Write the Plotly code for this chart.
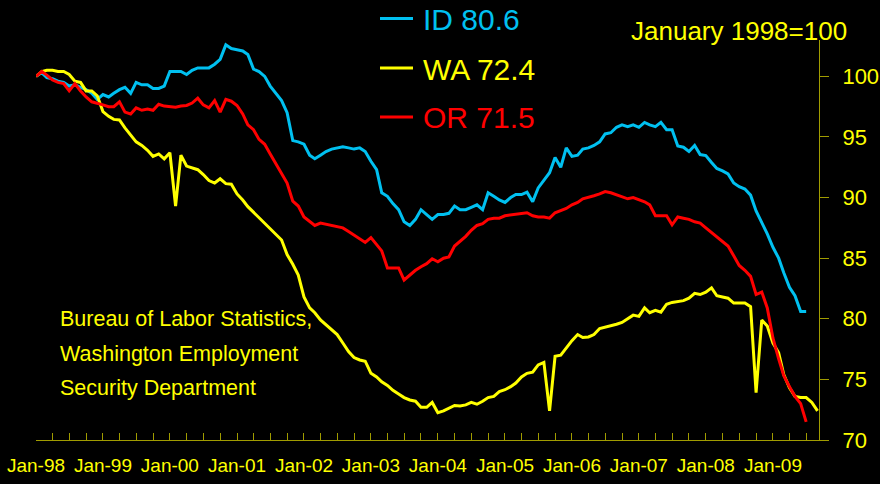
import pandas as pd
import plotly.graph_objects as go

# ---------------- data (index, January 1998 = 100) ----------------
id_vals = [
    100, 100.3, 99.9, 99.8, 99.6, 99.5, 99.2, 99.3, 99.1, 98.9, 98.6, 98.1,
    98.5, 98.3, 98.6, 98.9, 99.1, 98.6, 99.5, 99.3, 99.3, 99.0, 99.0, 99.2,
    100.4, 100.4, 100.4, 100.15, 100.5, 100.7, 100.7, 100.7, 101.0, 101.4, 102.6, 102.3,
    102.2, 102.1, 101.8, 100.6, 100.4, 100.0, 99.2, 98.6, 98.0, 97.0, 94.7, 94.6,
    94.4, 93.5, 93.2, 93.5, 93.8, 94.0, 94.1, 94.2, 94.1, 94.0, 94.1, 93.8,
    93.0, 92.3, 90.4, 90.1, 89.5, 89.0, 88.0, 87.7, 88.2, 89.0, 88.6, 88.2,
    88.6, 88.6, 88.7, 89.3, 89.0, 89.0, 89.2, 89.4, 89.0, 90.4, 90.1, 89.8,
    89.6, 90.0, 90.25, 90.25, 90.45, 89.65, 90.8, 91.4, 92.05, 93.3, 92.5, 94.1,
    93.4, 93.5, 94.0, 94.1, 94.3, 94.6, 95.25, 95.35, 95.8, 96.0, 95.85, 96.0,
    95.8, 96.2, 96.0, 95.85, 96.2, 95.6, 95.6, 94.25, 94.15, 93.8, 94.3, 93.55,
    93.47, 92.9, 92.4, 92.2, 91.95, 91.2, 90.9, 90.7, 90.2, 88.9, 88.0, 87.0,
    85.9, 85.0, 83.8, 82.6, 81.9, 80.6, 80.6,
]
wa_vals = [
    100, 100.4, 100.5, 100.5, 100.4, 100.4, 100.15, 99.6, 99.5, 98.8, 98.8, 98.4,
    97.1, 96.7, 96.45, 96.4, 95.75, 95.2, 94.6, 94.3, 93.9, 93.4, 93.6, 93.2,
    93.7, 89.3, 93.5, 92.6, 92.45, 92.3, 91.9, 91.4, 91.2, 91.55, 91.15, 91.1,
    90.3, 89.8, 89.25, 88.8, 88.35, 87.9, 87.4, 87.0, 86.5, 85.3, 84.5, 83.6,
    81.8, 80.9, 80.5, 79.9, 79.5, 79.1, 78.7, 78.0, 77.3, 76.8, 76.6, 76.5,
    75.5, 75.2, 74.8, 74.5, 74.1, 73.8, 73.5, 73.3, 73.2, 72.7, 72.7, 73.1,
    72.25, 72.4, 72.6, 72.85, 72.8, 72.9, 73.1, 72.95, 73.2, 73.5, 73.6, 74.0,
    74.15, 74.4, 74.7, 75.2, 75.5, 75.6, 76.2, 76.4, 72.4, 76.9, 77.0, 77.6,
    78.2, 78.7, 78.45, 78.5, 78.7, 79.2, 79.3, 79.45, 79.55, 79.7, 80.0, 80.3,
    80.2, 80.9, 80.5, 80.7, 80.55, 81.2, 81.35, 81.45, 81.5, 81.7, 82.1, 82.0,
    82.2, 82.55, 81.9, 81.8, 81.7, 81.3, 81.3, 81.3, 81.0, 73.9, 79.9, 79.4,
    78.0, 77.2, 75.4, 74.3, 73.6, 73.5, 73.5, 73.1, 72.4,
]
or_vals = [
    100, 100.4, 100.1, 99.7, 99.5, 99.4, 98.8, 99.4, 98.8, 98.3, 97.9, 97.8,
    97.65, 97.5, 97.5, 97.9, 97.05, 96.9, 97.4, 97.2, 97.3, 97.2, 97.7, 97.55,
    97.5, 97.45, 97.55, 97.6, 97.8, 98.2, 97.65, 97.4, 98.0, 97.05, 98.1, 97.95,
    97.6, 96.9, 96.0, 95.6, 94.8, 94.4, 93.6, 92.8, 92.0, 91.2, 89.7, 89.3,
    88.4, 88.0, 87.7, 87.9, 87.8, 87.75, 87.6, 87.5, 87.2, 86.9, 86.55, 86.3,
    86.7, 86.1, 85.6, 84.2, 84.2, 84.2, 83.2, 83.6, 84.0, 84.3, 84.55, 84.95,
    84.7, 85.0, 85.1, 86.0, 86.4, 86.8, 87.3, 87.7, 87.85, 88.2, 88.3, 88.3,
    88.5, 88.55, 88.6, 88.7, 88.75, 88.5, 88.4, 88.4, 88.3, 88.75, 88.9, 89.1,
    89.4, 89.6, 89.9, 90.0, 90.15, 90.3, 90.5, 90.4, 90.25, 90.1, 89.9, 90.0,
    89.85, 89.65, 89.4, 88.5, 88.5, 88.5, 87.75, 88.4, 88.3, 88.2, 88.0, 87.9,
    87.5, 87.1, 86.8, 86.4, 86.0, 85.2, 84.4, 84.0, 83.5, 82.0, 82.2, 80.9,
    78.4, 76.7, 75.3, 74.4, 73.6, 73.0, 71.5,
]
series_names = ["ID", "WA", "OR"]
y_ticks = [70, 75, 80, 85, 90, 95, 100]
unit_label = "January 1998=100"
source_lines = ["Bureau of Labor Statistics,", "Washington Employment", "Security Department"]

# ---------------- styling ----------------
FONT = "Liberation Sans, Arial, sans-serif"
AXIS = "#a09c00"
TXT = "#ffff00"
colors = {"ID": "#00c0f0", "WA": "#ffff00", "OR": "#ff0000"}

W, H = 880, 484
ML, MR, MT, MB = 36, 61, 40, 44
PW, PH = W - ML - MR, H - MT - MB


def px(x):
    return (x - ML) / PW


def py(y):
    return (H - MB - y) / PH


months = pd.date_range("1998-01-01", periods=len(wa_vals), freq="MS")
data = {"ID": id_vals, "WA": wa_vals, "OR": or_vals}

fig = go.Figure()
for name in series_names:
    vals = data[name]
    fig.add_trace(go.Scatter(
        x=months[:len(vals)], y=vals, mode="lines", name=name,
        line=dict(color=colors[name], width=3), showlegend=False,
        hoverinfo="skip",
    ))

# manual legend
leg_y = [18.5, 68, 117]
shapes = []
annotations = []
for name, yy in zip(series_names, leg_y):
    vals = data[name]
    shapes.append(dict(type="line", xref="paper", yref="paper",
                       x0=px(380), x1=px(413), y0=py(yy), y1=py(yy),
                       line=dict(color=colors[name], width=3)))
    annotations.append(dict(xref="paper", yref="paper", x=px(421), y=py(yy + 1),
                            xanchor="left", yanchor="middle", showarrow=False,
                            text=f"{name} {vals[-1]:.1f}",
                            font=dict(family=FONT, size=30, color=colors[name])))

annotations.append(dict(xref="paper", yref="paper", x=px(629), y=py(31),
                        xanchor="left", yanchor="middle", showarrow=False,
                        text=unit_label, font=dict(family=FONT, size=26, color=TXT)))
for i, line in enumerate(source_lines):
    annotations.append(dict(xref="paper", yref="paper", x=px(58), y=py(319 + 34.5 * i),
                            xanchor="left", yanchor="middle", showarrow=False,
                            text=line, font=dict(family=FONT, size=21.5, color=TXT)))

fig.update_layout(
    width=W, height=H,
    margin=dict(l=ML, r=MR, t=MT, b=MB, pad=0),
    paper_bgcolor="black", plot_bgcolor="black",
    font=dict(family=FONT, color=TXT),
    shapes=shapes, annotations=annotations,
    xaxis=dict(
        type="date", range=["1998-01-01", "2009-09-09"], automargin=False,
        tick0="1998-01-01", dtick="M12", tickformat="%b-%y", tickangle=0,
        ticks="inside", ticklen=7, tickwidth=1, tickcolor=AXIS,
        showline=True, linecolor=AXIS, linewidth=1,
        showgrid=False, zeroline=False,
        tickfont=dict(family=FONT, size=19, color=TXT),
        ticklabelstandoff=8,
        minor=dict(dtick="M3", ticks="inside", ticklen=7, tickcolor=AXIS, showgrid=False),
    ),
    yaxis=dict(
        side="right", range=[70, 103], tickvals=y_ticks, automargin=False,
        ticks="outside", ticklen=9, tickwidth=1, tickcolor=AXIS,
        showline=True, linecolor=AXIS, linewidth=1,
        showgrid=False, zeroline=False,
        tickfont=dict(family=FONT, size=22, color=TXT),
        ticklabelstandoff=9,
    ),
)

fig.write_html(
    "out.html",
    config={"displayModeBar": False},
    post_script="document.body.style.margin='0';document.body.style.background='black';",
)
